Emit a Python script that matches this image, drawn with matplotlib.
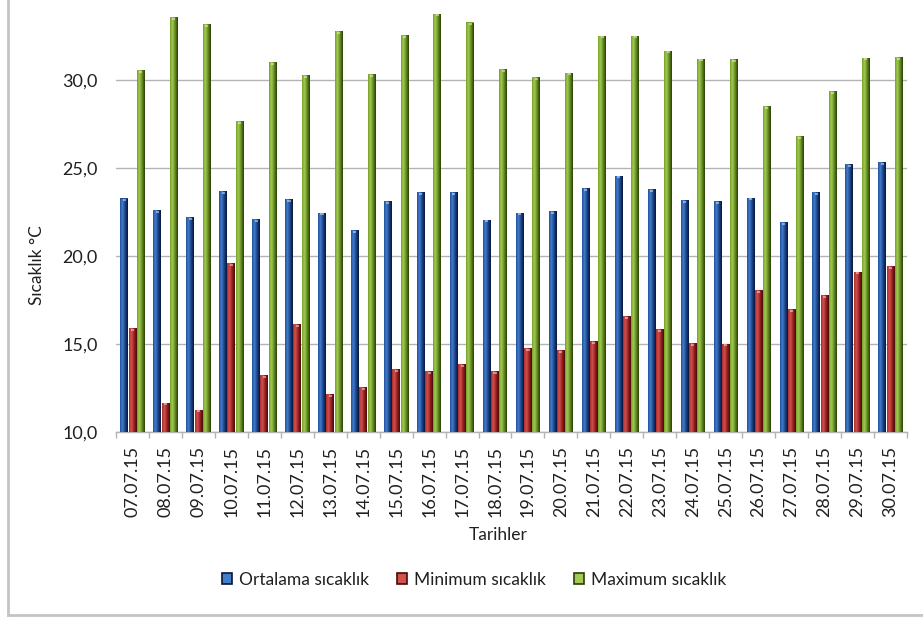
import numpy as np
import matplotlib
matplotlib.use("Agg")
import matplotlib.pyplot as plt
from matplotlib.colors import LinearSegmentedColormap
from matplotlib.patches import Patch
from matplotlib.lines import Line2D

# Daily temperatures, July 2015
dates = ["07.07.15", "08.07.15", "09.07.15", "10.07.15", "11.07.15", "12.07.15",
         "13.07.15", "14.07.15", "15.07.15", "16.07.15", "17.07.15", "18.07.15",
         "19.07.15", "20.07.15", "21.07.15", "22.07.15", "23.07.15", "24.07.15",
         "25.07.15", "26.07.15", "27.07.15", "28.07.15", "29.07.15", "30.07.15"]
ortalama = [23.25, 22.6, 22.2, 23.65, 22.1, 23.2, 22.45, 21.45, 23.1, 23.6, 23.6, 22.05,
            22.45, 22.55, 23.85, 24.55, 23.8, 23.15, 23.1, 23.3, 21.9, 23.6, 25.2, 25.3]
minimum = [15.9, 11.65, 11.25, 19.6, 13.2, 16.1, 12.15, 12.55, 13.55, 13.45, 13.85, 13.45,
           14.75, 14.65, 15.15, 16.55, 15.85, 15.05, 15.0, 18.05, 16.95, 17.75, 19.1, 19.4]
maximum = [30.55, 33.55, 33.15, 27.65, 31.0, 30.25, 32.75, 30.3, 32.55, 33.75, 33.25, 30.6,
           30.15, 30.4, 32.5, 32.5, 31.65, 31.2, 31.15, 28.5, 26.8, 29.35, 31.25, 31.3]
series_names = ["Ortalama sıcaklık", "Minimum sıcaklık", "Maximum sıcaklık"]
y_ticks = [10.0, 15.0, 20.0, 25.0, 30.0]

# cylinder-like shading for each series: (left, highlight, shade, dark edge)
shades = [
    ["#1f4f9a", "#447dcc", "#1a448a", "#081634"],
    ["#a82a2a", "#d25250", "#962020", "#440a0a"],
    ["#77a02c", "#a2cb52", "#658b22", "#283d08"],
]
flat = ["#1f4f9a", "#a82a2a", "#77a02c"]

plt.rcParams["font.family"] = ["Lato", "DejaVu Sans"]

W, H = 923, 617
fig = plt.figure(figsize=(W / 100, H / 100), dpi=100)
fig.patch.set_facecolor("white")

ymin, ymax = 10.0, 34.0
ax_left, ax_right = 116, 907
ax_bottom = 431.7
px_per_unit = 17.6
ax_top = ax_bottom - (ymax - ymin) * px_per_unit
ax = fig.add_axes([ax_left / W, 1 - ax_bottom / H,
                   (ax_right - ax_left) / W, (ax_bottom - ax_top) / H])

n = len(dates)
x = np.arange(n)
bw = 0.235
offsets = [-0.25, 0.0, 0.25]
data = [ortalama, minimum, maximum]

grad = np.linspace(0, 1, 64).reshape(1, -1)
for vals, off, cols, fc in zip(data, offsets, shades, flat):
    cmap = LinearSegmentedColormap.from_list(
        "s", list(zip([0.0, 0.3, 0.65, 1.0], cols)))
    bars = ax.bar(x + off, np.array(vals) - ymin, bottom=ymin, width=bw,
                  color=fc, edgecolor="none", zorder=3)
    for b in bars:
        x0, w = b.get_x(), b.get_width()
        top = b.get_y() + b.get_height()
        im = ax.imshow(grad, cmap=cmap, extent=(x0, x0 + w, ymin, top),
                       aspect="auto", zorder=3.1, interpolation="bilinear")
        im.set_clip_path(b)
        # small highlight at the bar top
        ax.plot([x0 + w * 0.3, x0 + w * 0.7], [top - 0.1, top - 0.1],
                color="white", alpha=0.55, lw=1.2, zorder=3.2,
                solid_capstyle="butt")

ax.set_xlim(-0.5, n - 0.5)
ax.set_ylim(ymin, ymax)

ax.set_yticks(y_ticks)
ax.set_yticklabels([f"{v:.1f}".replace(".", ",") for v in y_ticks])
ax.yaxis.grid(True, color="#b4b4b4", lw=1.0, zorder=0)
ax.set_axisbelow(True)

ax.set_xticks(x)
ax.set_xticklabels(dates, rotation=90)
ax.set_xticks(np.arange(n + 1) - 0.5, minor=True)
ax.tick_params(axis="x", which="major", length=0, pad=10, labelsize=13,
               labelcolor="#202020")
ax.tick_params(axis="x", which="minor", length=4, width=1, color="#b4b4b4")
ax.tick_params(axis="y", length=0, pad=13, labelsize=13, labelcolor="#202020")

for s in ["top", "right", "left"]:
    ax.spines[s].set_visible(False)
ax.spines["bottom"].set_color("#b4b4b4")
ax.spines["bottom"].set_linewidth(1.0)

fig.text(37 / W, 1 - 265 / H, "Sıcaklık °C", rotation=90, ha="center",
         va="center", fontsize=12.5, color="#202020")
fig.text(498 / W, 1 - 535 / H, "Tarihler", ha="center", va="center",
         fontsize=12.5, color="#202020")

handles = [Patch(facecolor=c[1], edgecolor=c[3], linewidth=1.2) for c in shades]
fig.legend(handles, series_names, loc="center", ncol=3,
           bbox_to_anchor=(474 / W, 1 - 580 / H), frameon=False,
           fontsize=12.5, handlelength=0.6, handleheight=0.6,
           handletextpad=0.4, columnspacing=1.6, labelcolor="#202020")

# chart frame
fig.add_artist(Line2D([8 / W, 8 / W], [1 - 615 / H, 1.0], color="#c4c4c4", lw=2))
fig.add_artist(Line2D([8 / W, 1.0], [1 - 615 / H, 1 - 615 / H], color="#c4c4c4", lw=2))

fig.savefig("out.png", dpi=100, facecolor="white")
